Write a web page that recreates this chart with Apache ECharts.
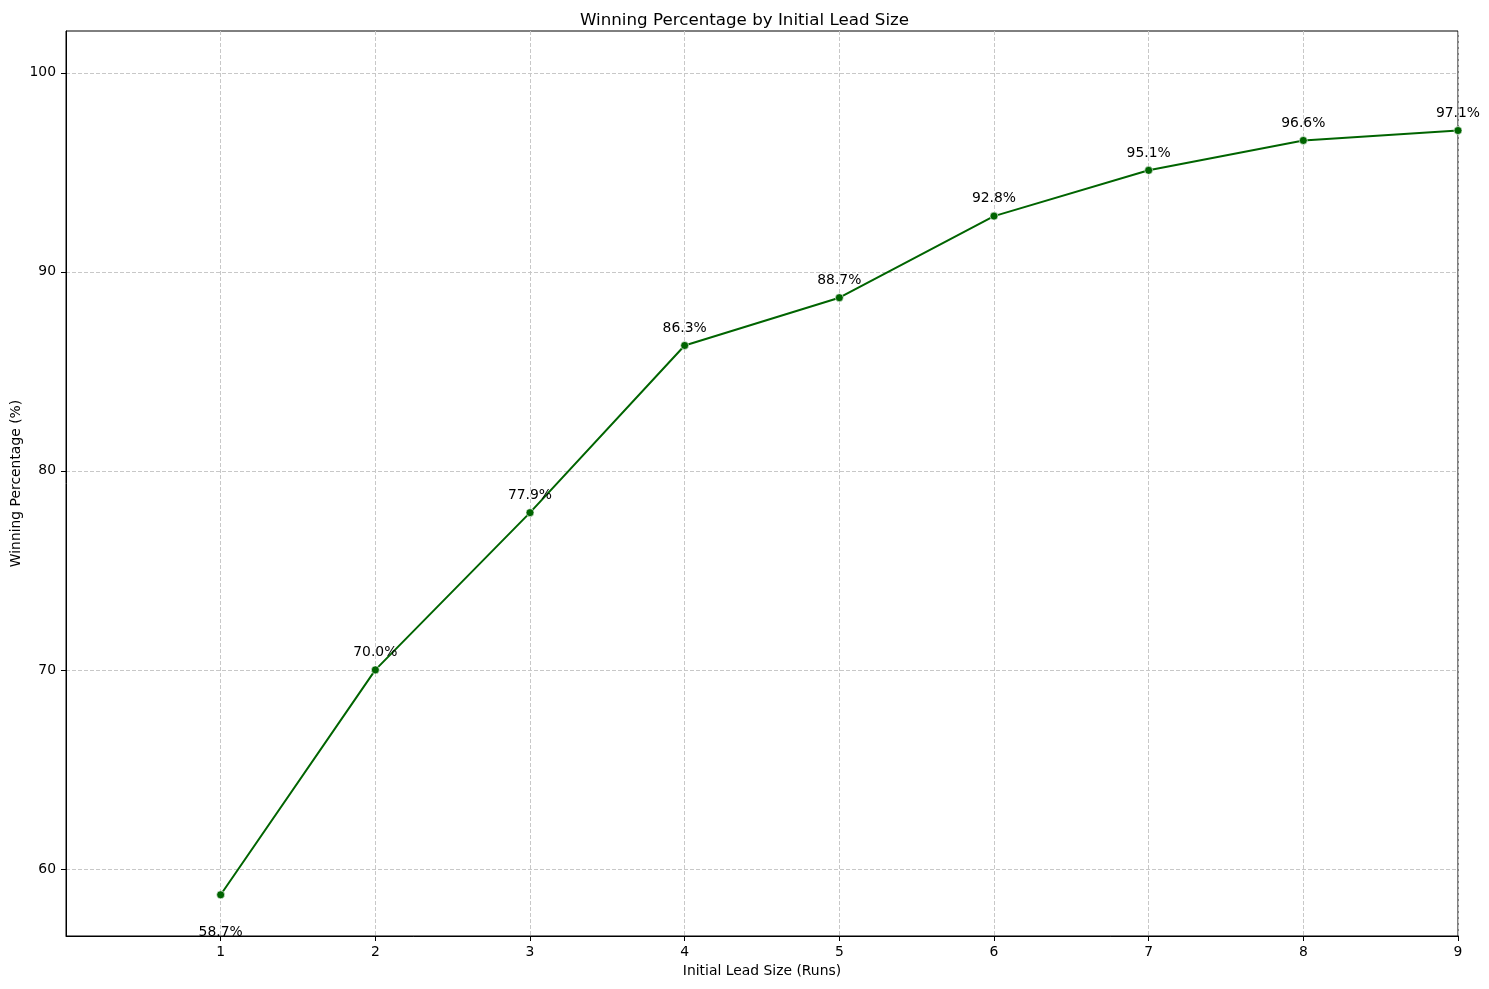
<!DOCTYPE html>
<html>
<head>
<meta charset="utf-8">
<script src="https://cdn.jsdelivr.net/npm/echarts@6/dist/echarts.min.js"></script>
<style>
  html, body { margin: 0; padding: 0; background: #fff; }
  #chart { width: 1489px; height: 989px; }
</style>
</head>
<body>
<div id="chart"></div>
<script>
// Winning percentage by initial lead size
const leadSizes = [1, 2, 3, 4, 5, 6, 7, 8, 9];
const winPct = [58.7, 70.0, 77.9, 86.3, 88.7, 92.8, 95.1, 96.6, 97.1];
const yTicks = [60, 70, 80, 90, 100];

const points = leadSizes.map((x, i) => [x, winPct[i]]);

const chart = echarts.init(document.getElementById("chart"), null, { renderer: "canvas" });
const font = "DejaVu Sans";
const gridLine = { show: true, lineStyle: { color: "#c8c8c8", type: [4, 2], width: 1 } };

const option = {
  animation: false,
  textStyle: { fontFamily: font },
  title: {
    text: "Winning Percentage by Initial Lead Size",
    left: "center",
    top: 7,
    textStyle: { fontFamily: font, fontSize: 16.7, fontWeight: "normal", color: "#000" },
  },
  grid: {
    left: 66,
    right: 31,
    top: 31,
    bottom: 53,
    show: true,
    borderColor: "#000",
    borderWidth: 1,
    containLabel: false,
    outerBoundsMode: "none",
  },
  xAxis: {
    type: "value",
    min: 0,
    max: 9,
    interval: 1,
    name: "Initial Lead Size (Runs)",
    nameLocation: "middle",
    nameGap: 28,
    nameMoveOverlap: false,
    nameTextStyle: { fontFamily: font, fontSize: 13.9, color: "#000", verticalAlign: "top" },
    axisLine: { show: true, onZero: false, lineStyle: { color: "#000", width: 1 } },
    axisTick: { show: true, length: 5, lineStyle: { color: "#000" }, customValues: leadSizes },
    axisLabel: { fontFamily: font, fontSize: 13.9, color: "#000", margin: 9, customValues: leadSizes },
    splitLine: gridLine,
  },
  yAxis: {
    type: "value",
    min: 56.63,
    max: 102.1,
    name: "Winning Percentage (%)",
    nameLocation: "middle",
    nameGap: 43,
    nameRotate: 90,
    nameMoveOverlap: false,
    nameTextStyle: { fontFamily: font, fontSize: 13.9, color: "#000" },
    axisLine: { show: true, lineStyle: { color: "#000", width: 1 } },
    axisTick: { show: true, length: 5, lineStyle: { color: "#000" }, customValues: yTicks },
    axisLabel: { fontFamily: font, fontSize: 13.9, color: "#000", margin: 10, customValues: yTicks },
    splitLine: gridLine,
  },
  series: [
    {
      name: "Win %",
      type: "line",
      symbol: "circle",
      symbolSize: 8,
      showAllSymbol: true,
      clip: true,
      lineStyle: { color: "#006400", width: 2 },
      itemStyle: { color: "#006400", borderColor: "#fff", borderWidth: 0.6 },
      label: {
        show: true,
        position: "top",
        distance: 6,
        fontFamily: font,
        fontSize: 13.9,
        color: "#000",
        formatter: (p) => p.value[1].toFixed(1) + "%",
      },
      labelLayout: { hideOverlap: false },
      emphasis: { disabled: true },
      // the lowest point gets its label underneath
      data: points.map((p, i) =>
        i === 0 ? { value: p, label: { position: "bottom", distance: 26 } } : p
      ),
    },
  ],
};

chart.setOption(option);
</script>
</body>
</html>
